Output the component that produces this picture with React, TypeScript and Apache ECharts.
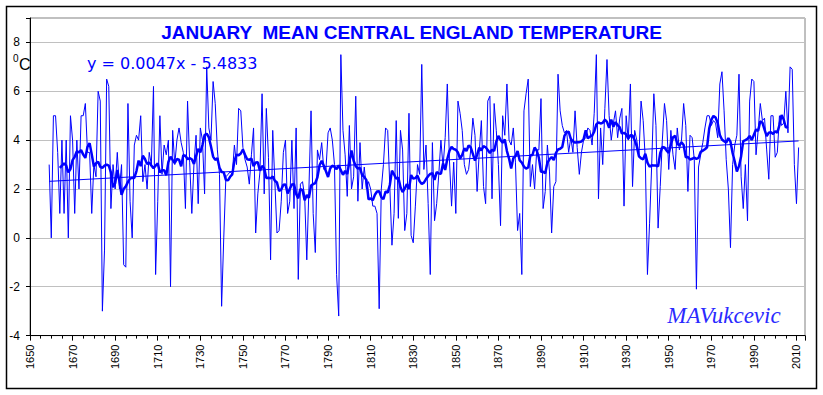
import React, { useEffect, useRef } from "react";
import * as echarts from "echarts";

// ---- data (January mean CET) ----
const START_YEAR = 1659;
const AXIS_ORIGIN_YEAR = 1650;
const AXIS_END_YEAR = 2014;

const temps1659to1699 = [
  3.0, 0.0, 5.0, 5.0, 3.5, 1.0, 4.0, 1.0, 4.0, 0.0,
  5.0, 4.0, 1.0, 4.0, 2.0, 5.0, 5.0, 5.5, 3.5, 3.5,
  1.0, 3.0, 2.5, 6.0, 5.6, -3.0, -0.5, 6.5, 6.2, 1.2,
  3.0, 2.0, 3.5, 2.0, 3.0, -1.1, -1.2, 5.5, 1.5, 0.0,
  3.8,
];
const temps1700s = [
  4.2, 4.0, 5.0, 2.3, 3.0, 2.0, 3.5, 3.0, 6.2, -1.5,
  1.5, 5.0, 2.6, 3.8, 3.4, 4.0, -2.0, 4.4, 3.0, 4.0,
  4.5, 3.9, 3.5, 1.2, 5.6, 3.1, 1.0, 3.0, 4.2, 1.4,
  4.5, 4.0, 1.8, 7.0, 4.5, 4.0, 6.4, 5.5, 3.6, 2.6,
  -2.8, 0.0, 2.5, 2.6, 2.7, 2.6, 3.8, 3.0, 5.3, 5.2,
  3.7, 3.2, 2.9, 2.2, 3.4, 4.5, 0.2, 1.8, 2.7, 5.9,
  1.8, 5.3, 3.3, -0.9, 4.4, 2.3, 0.2, 0.3, 1.5, 3.5,
  4.0, 1.0, 1.5, 4.0, 1.2, 4.5, -1.7, 2.2, 2.3, 1.7,
  -0.9, 2.0, 5.2, 1.0, -0.6, 3.6, 3.2, 3.9, 2.8, 2.8,
  4.3, 4.5, 4.0, 3.0, -1.5, -3.2, 7.5, 4.4, 3.4, 1.7,
];
const temps1800s = [
  4.6, 2.0, 2.5, 5.8, 1.5, 3.9, 2.0, 2.9, 2.0, 2.3,
  2.0, 1.3, 1.3, 1.0, -2.9, 2.0, 3.0, 4.5, 4.4, 2.1,
  -0.3, 1.0, 4.8, 0.8, 4.4, 3.6, 0.3, 1.0, 5.1, 0.1,
  -0.2, 1.3, 3.0, 2.6, 7.1, 2.8, 3.8, 1.4, -1.5, 3.9,
  0.7, 1.4, 2.6, 4.0, 2.9, 4.1, 6.3, 3.2, 1.3, 3.1,
  1.0, 5.6, 5.1, 4.4, 3.0, 2.6, 2.8, 3.6, 4.9, 4.2,
  1.9, 3.5, 4.8, 2.1, 1.4, 5.6, 5.8, 1.6, 5.5, 4.4,
  3.0, 0.5, 5.0, 4.2, 6.3, 4.0, 3.8, 4.5, 3.1, 0.3,
  1.0, -1.5, 5.2, 5.9, 6.5, 2.1, 3.0, 2.0, 3.6, 3.6,
  5.7, 1.2, 1.9, 3.8, 2.7, 0.2, 2.1, 2.3, 6.7, 5.2,
];
const temps1900s = [
  4.6, 4.3, 4.4, 3.5, 4.1, 3.5, 5.2, 3.7, 2.6, 3.5,
  4.0, 4.1, 4.5, 4.4, 3.8, 5.1, 7.5, 1.6, 4.5, 3.0,
  5.3, 7.3, 5.0, 4.0, 4.7, 5.2, 4.1, 4.9, 5.3, 1.3,
  5.0, 4.0, 6.3, 2.1, 4.4, 4.0, 3.3, 5.6, 4.8, 3.2,
  -1.5, 0.6, 3.0, 5.9, 4.6, 0.4, 2.1, 4.0, 5.5, 4.8,
  2.8, 4.4, 3.4, 2.8, 4.5, 3.6, 4.0, 5.5, 4.6, 1.9,
  4.2, 4.1, 3.2, -2.1, 2.9, 3.4, 3.9, 4.5, 5.0, 5.0,
  4.6, 4.8, 4.7, 4.1, 6.3, 6.8, 5.2, 3.2, 2.0, -0.4,
  3.0, 3.8, 4.2, 6.7, 2.5, 1.2, 3.0, 0.7, 5.6, 6.5,
  6.4, 3.4, 4.4, 5.5, 4.8, 4.9, 3.6, 2.4, 5.0, 5.0,
];
const temps2000s = [3.3, 3.5, 5.0, 4.6, 4.7, 6.0, 4.3, 7.0, 6.9, 3.0, 1.4, 3.7];

// trend line as printed on the chart: y = 0.0047x - 5.4833
const TREND_SLOPE = 0.0047;
const TREND_INTERCEPT = -5.4833;
// centred 11-year running mean
const RUNNING_MEAN_HALF_WINDOW = 5;

const yTicks = [-4, -2, 0, 2, 4, 6, 8];

const TITLE = "JANUARY  MEAN CENTRAL ENGLAND TEMPERATURE";
const EQUATION = "y = 0.0047x - 5.4833";
const SIGNATURE = "MAVukcevic";

const allTemps = [
  ...temps1659to1699,
  ...temps1700s,
  ...temps1800s,
  ...temps1900s,
  ...temps2000s,
];

export default function App() {
  const ref = useRef<HTMLDivElement>(null);

  useEffect(() => {
    if (!ref.current) return;
    const chart = echarts.init(ref.current, undefined, { renderer: "svg" });

    const annual = allTemps.map((v, i) => [START_YEAR + i - AXIS_ORIGIN_YEAR, v]);
    const h = RUNNING_MEAN_HALF_WINDOW;
    const runningMean: number[][] = [];
    for (let i = h; i < allTemps.length - h; i++) {
      let s = 0;
      for (let k = i - h; k <= i + h; k++) s += allTemps[k];
      runningMean.push([START_YEAR + i - AXIS_ORIGIN_YEAR, s / (2 * h + 1)]);
    }
    const firstYear = START_YEAR;
    const lastYear = START_YEAR + allTemps.length - 1;
    const trend = [firstYear, lastYear].map((yr) => [
      yr - AXIS_ORIGIN_YEAR,
      TREND_SLOPE * yr + TREND_INTERCEPT,
    ]);

    const blue = "#0000ff";
    chart.setOption({
      animation: false,
      backgroundColor: "#ffffff",
      grid: {
        left: 30,
        top: 18,
        right: 18,
        bottom: 59.4,
        show: true,
        borderColor: "#808080",
        borderWidth: 1,
        backgroundColor: "transparent",
      },
      xAxis: {
        type: "value",
        min: 0,
        max: AXIS_END_YEAR - AXIS_ORIGIN_YEAR,
        interval: 20,
        axisLine: { show: true, onZero: false, lineStyle: { color: "#000", width: 1 } },
        axisTick: { show: true, length: 5, lineStyle: { color: "#000" } },
        minorTick: { show: true, splitNumber: 4, length: 3, lineStyle: { color: "#000" } },
        splitLine: { show: false },
        minorSplitLine: { show: false },
        axisLabel: {
          rotate: 90,
          fontSize: 11,
          color: "#000",
          fontFamily: "Liberation Sans, Arial, sans-serif",
          margin: 9,
          formatter: (v: number) => (v % 20 === 0 ? String(v + AXIS_ORIGIN_YEAR) : ""),
        },
      },
      yAxis: {
        type: "value",
        min: -4,
        max: 9,
        interval: 2,
        axisLine: { show: true, lineStyle: { color: "#000", width: 1 } },
        axisTick: { show: true, length: 4, lineStyle: { color: "#000" } },
        splitLine: { show: true, lineStyle: { color: "#c0c0c0", width: 1 } },
        axisLabel: {
          fontSize: 12,
          color: "#000",
          fontFamily: "Liberation Sans, Arial, sans-serif",
          margin: 10,
          formatter: (v: number) => (yTicks.includes(v) ? String(v) : ""),
        },
      },
      series: [
        {
          name: "January",
          type: "line",
          data: annual,
          showSymbol: false,
          symbol: "none",
          lineStyle: { color: blue, width: 1 },
          z: 2,
        },
        {
          name: "Trend",
          type: "line",
          data: trend,
          showSymbol: false,
          symbol: "none",
          lineStyle: { color: blue, width: 1 },
          z: 3,
        },
        {
          name: "11-year running mean",
          type: "line",
          data: runningMean,
          showSymbol: false,
          symbol: "none",
          lineStyle: { color: blue, width: 2.5 },
          z: 4,
        },
      ],
      graphic: [
        {
          type: "rect",
          shape: { x: 6.5, y: 6.5, width: 810, height: 382 },
          style: { fill: "none", stroke: "#000", lineWidth: 1.5 },
          silent: true,
          z: 100,
        },
        {
          type: "text",
          x: 411.5,
          y: 32.5,
          style: {
            text: TITLE,
            fill: blue,
            fontSize: 19,
            fontWeight: "bold",
            fontFamily: "Liberation Sans",
            align: "center",
            verticalAlign: "middle",
          },
          z: 100,
        },
        {
          type: "text",
          x: 87,
          y: 63,
          style: {
            text: EQUATION,
            fill: blue,
            fontSize: 16,
            fontFamily: "DejaVu Sans",
            align: "left",
            verticalAlign: "middle",
          },
          z: 100,
        },
        {
          type: "text",
          x: 13,
          y: 58,
          style: {
            text: "0",
            fill: "#000",
            fontSize: 10,
            fontFamily: "Liberation Sans",
            align: "left",
            verticalAlign: "middle",
          },
          z: 100,
        },
        {
          type: "text",
          x: 19,
          y: 64,
          style: {
            text: "C",
            fill: "#000",
            fontSize: 16,
            fontFamily: "Liberation Sans",
            align: "left",
            verticalAlign: "middle",
          },
          z: 100,
        },
        {
          type: "text",
          x: 724,
          y: 315,
          style: {
            text: SIGNATURE,
            fill: "#2a2aff",
            fontSize: 23,
            fontStyle: "italic",
            fontFamily: "Liberation Serif",
            align: "center",
            verticalAlign: "middle",
          },
          z: 100,
        },
      ],
    });

    return () => chart.dispose();
  }, []);

  return (
    <div
      ref={ref}
      style={{ position: "fixed", left: 0, top: 0, width: 823, height: 395 }}
    />
  );
}
